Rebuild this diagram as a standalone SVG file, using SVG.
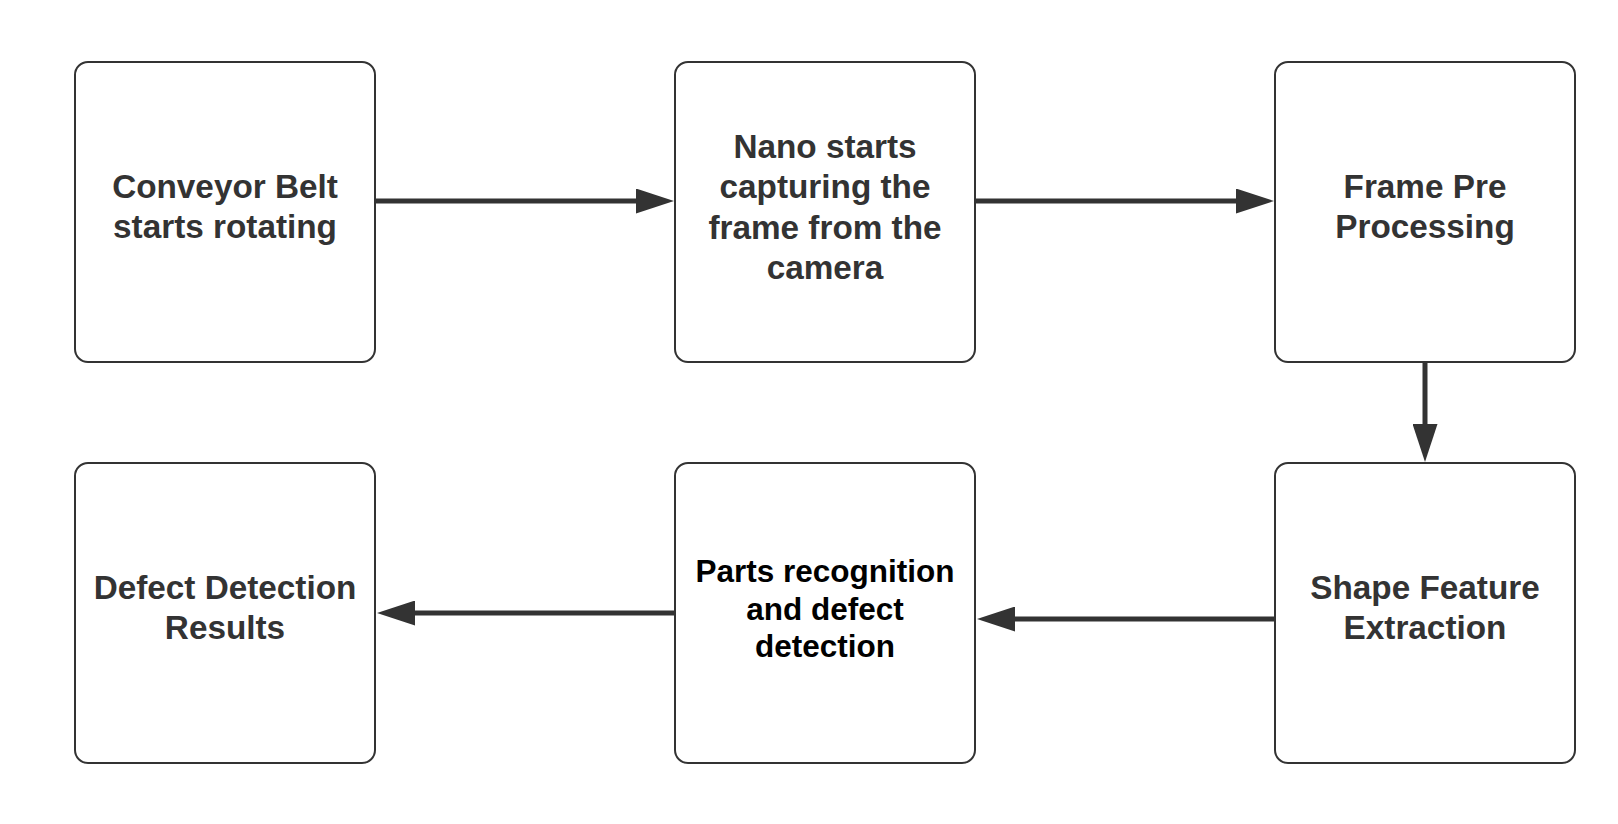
<svg xmlns="http://www.w3.org/2000/svg" width="1618" height="824" viewBox="0 0 1618 824">
<style>
.box{fill:#ffffff;stroke:#333333;stroke-width:2}
.lbl{font-family:"Liberation Sans",Arial,sans-serif;font-weight:bold;font-size:33.3px;fill:#333333;text-anchor:middle}
.lbl2{font-family:"Liberation Sans",Arial,sans-serif;font-weight:bold;font-size:31.5px;fill:#000000;text-anchor:middle}
.conn{stroke:#333333;stroke-width:5;fill:none}
</style>
<defs>
<marker id="ah" markerUnits="userSpaceOnUse" viewBox="0 0 38 25" markerWidth="38" markerHeight="25" refX="0" refY="12.5" orient="auto">
<path d="M0,0 L38,12.5 L0,25 Z" fill="#333333"/>
</marker>
</defs>
<rect width="1618" height="824" fill="#ffffff"/>
<g id="connectors">
<line class="conn" x1="375" y1="201" x2="636" y2="201" marker-end="url(#ah)"/>
<line class="conn" x1="975" y1="201" x2="1236" y2="201" marker-end="url(#ah)"/>
<line class="conn" x1="1425" y1="362" x2="1425" y2="424" marker-end="url(#ah)"/>
<line class="conn" x1="1275" y1="619" x2="1015" y2="619" marker-end="url(#ah)"/>
<line class="conn" x1="675" y1="613" x2="415" y2="613" marker-end="url(#ah)"/>
</g>
<g id="node1">
<rect class="box" x="75" y="62" width="300" height="300" rx="13"/>
<text class="lbl" x="225" y="198">Conveyor Belt</text>
<text class="lbl" x="225" y="238">starts rotating</text>
</g>
<g id="node2">
<rect class="box" x="675" y="62" width="300" height="300" rx="13"/>
<text class="lbl" x="825" y="158">Nano starts</text>
<text class="lbl" x="825" y="198">capturing the</text>
<text class="lbl" x="825" y="238.5">frame from the</text>
<text class="lbl" x="825" y="278.5">camera</text>
</g>
<g id="node3">
<rect class="box" x="1275" y="62" width="300" height="300" rx="13"/>
<text class="lbl" x="1425" y="198">Frame Pre</text>
<text class="lbl" x="1425" y="238">Processing</text>
</g>
<g id="node4">
<rect class="box" x="1275" y="463" width="300" height="300" rx="13"/>
<text class="lbl" x="1425" y="599">Shape Feature</text>
<text class="lbl" x="1425" y="639">Extraction</text>
</g>
<g id="node5">
<rect class="box" x="675" y="463" width="300" height="300" rx="13"/>
<text class="lbl2" x="825" y="582">Parts recognition</text>
<text class="lbl2" x="825" y="619.5">and defect</text>
<text class="lbl2" x="825" y="657">detection</text>
</g>
<g id="node6">
<rect class="box" x="75" y="463" width="300" height="300" rx="13"/>
<text class="lbl" x="225" y="599">Defect Detection</text>
<text class="lbl" x="225" y="639">Results</text>
</g>
</svg>
